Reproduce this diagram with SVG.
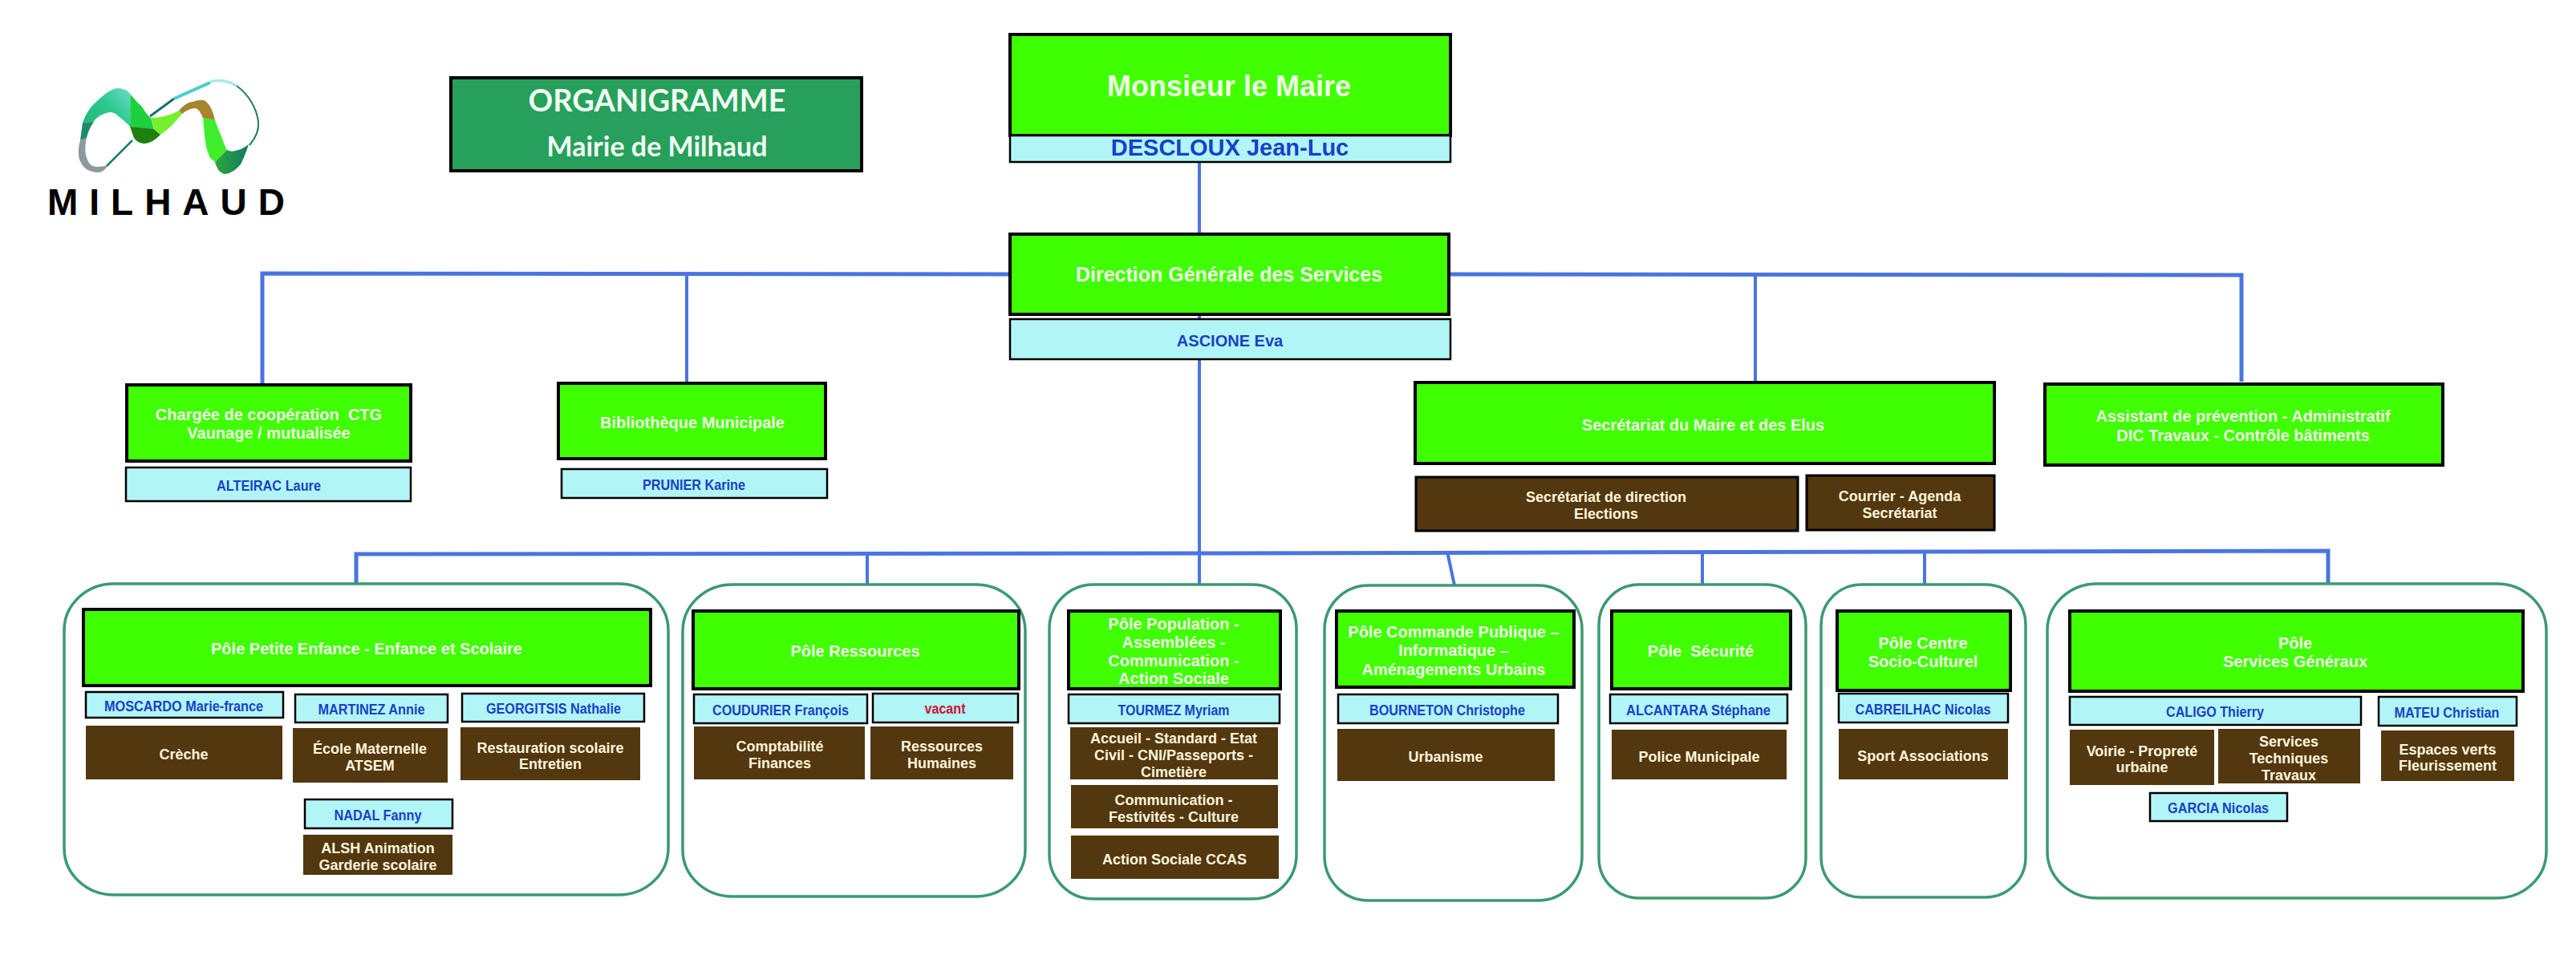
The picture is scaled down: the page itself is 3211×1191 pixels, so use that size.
<svg xmlns="http://www.w3.org/2000/svg" width="3211" height="1191" viewBox="0 0 3211 1191">
<defs>
<linearGradient id="arch" x1="0" y1="1" x2="1" y2="0.3"><stop offset="0" stop-color="#1fb877"/><stop offset="0.6" stop-color="#2cc78c"/><stop offset="1" stop-color="#58d8b8"/></linearGradient>
<linearGradient id="foot" x1="0" y1="0" x2="1" y2="0"><stop offset="0" stop-color="#2ba83c"/><stop offset="1" stop-color="#147a62"/></linearGradient>
</defs>
<style>
text{font-family:"Liberation Sans",Arial,sans-serif;font-weight:700;text-anchor:middle;dominant-baseline:central;white-space:pre}
.g{fill:#40ff00;stroke:#000;stroke-width:4}
.n{fill:#b2f5f7;stroke:#000;stroke-width:2.5}
.b{fill:#52370f}
.bk{fill:#52370f;stroke:#000;stroke-width:3}
.c{fill:#fff;stroke:#3a9a70;stroke-width:3.5}
.tg{fill:#f2ffe8;font-size:20px;transform:translateY(1.5px)}
.tn{fill:#1a3fc8;font-size:18px;transform:translateY(1.5px)}
.tb{fill:#fff6dc;font-size:18px;transform:translateY(1.5px)}
.l{fill:none;stroke:#4a74e0;stroke-width:4}
.t{font-family:Lato,"Open Sans",sans-serif;font-weight:700;fill:#f2fff4}
</style>
<rect width="3211" height="1191" fill="#fff"/>
<g id="logo">
<path d="M103,153C108,140 113,133 120,127C130,117 140,110 147,110C156,110 160,114 163,118L163,135L162,158C157,152 154,150 150,147C145,142 142,140 137,140C130,141 124,144 120,148C116,151 117,152 117,152Z" fill="url(#arch)"/>
<path d="M103,153L117,152C112,159 110,164 108,172L100,175Z" fill="#1d8a6c"/>
<path d="M100,175L108,172C106,180 106,188 107,193C109,203 114,208 120,208C126,208 131,207 135,206C131,212 127,215 122,215C112,215 103,210 99,199C97,191 98,182 100,175Z" fill="#8b9a9b"/>
<path d="M133,207L165,175" fill="none" stroke="#1d7f6c" stroke-width="2.5"/>
<path d="M163,118C168,124 172,129 177,133C181,140 184,144 188,147L192,162L162,158Z" fill="#1fd03e"/>
<path d="M162,158L192,161L200,168C193,175 186,179 180,179C174,179 170,176 167,172Z" fill="#1f7f10"/>
<path d="M188,147C200,147 212,144 223,138L227,142C220,150 214,157 208,162L200,168L192,161Z" fill="#74f02c"/>
<path d="M223,138C229,131 235,127 240,127C249,124 255,124 257,127C263,132 266,141 268,150L253,147C250,140 247,135 243,135C238,135 232,138 227,142Z" fill="#a5852d"/>
<path d="M253,147L268,150C271,158 274,166 277,173C279,179 281,184 283,187L268,202L262,197C259,190 258,186 257,183C255,170 254,158 253,147Z" fill="#3fee2a"/>
<path d="M283,187C287,189 290,189 293,188C299,187 305,184 310,180C306,192 303,199 300,205C293,213 286,217 280,217C274,216 270,210 268,202Z" fill="url(#foot)"/>
<path d="M187,145L217,123" fill="none" stroke="#1d6f70" stroke-width="3"/>
<path d="M217,123L262,103" fill="none" stroke="#45cfc8" stroke-width="4"/>
<path d="M262,102C274,99 285,101 295,107" fill="none" stroke="#a6ece4" stroke-width="3.5"/>
<path d="M295,107C310,118 320,135 322,152C323,163 318,173 311,181" fill="none" stroke="#1f7a6a" stroke-width="2"/>
<text x="214" y="252" font-size="46" letter-spacing="14" fill="#000">MILHAUD</text>
</g>
<g id="titre">
<rect x="562" y="97" width="512" height="116" fill="#27a05c" stroke="#000" stroke-width="4"/>
<text x="819" y="124" font-size="38" class="t">ORGANIGRAMME</text>
<text x="819" y="181" font-size="34" class="t">Mairie de Milhaud</text>
</g>
<g id="connectors" class="l">
<path d="M1495,202V291M1495,392V398M1495,448V728"/>
<path d="M1258,342L327,341V478" stroke-width="5"/>
<path d="M856,341V477"/>
<path d="M1806,342L2794,343V476" stroke-width="5"/>
<path d="M2188,342V476"/>
<path d="M444,727V691L1495,690L2902,687V728" stroke-width="5"/>
<path d="M1081,690V728M1804,688L1813,730M2122,688V729M2399,688V728"/>
</g>
<g id="maire">
<rect class="g" x="1259" y="43" width="549" height="126"/>
<text x="1532" y="107" font-size="36" fill="#f2ffe8">Monsieur le Maire</text>
<rect class="n" x="1259" y="169" width="549" height="33"/>
<text x="1533" y="184" font-size="29" fill="#1a3fc8">DESCLOUX Jean-Luc</text>
</g>
<g id="dgs">
<rect class="g" x="1259" y="292" width="547" height="100"/>
<text x="1532" y="342" font-size="25" fill="#f2ffe8">Direction Générale des Services</text>
<rect class="n" x="1259" y="398" width="549" height="50"/>
<text class="tn" x="1533" y="423" style="font-size:20px">ASCIONE Eva</text>
</g>
<g id="cooperation">
<rect class="g" x="158" y="480" width="354" height="95"/>
<text class="tg" x="335" y="515">Chargée de coopération  CTG</text>
<text class="tg" x="335" y="538">Vaunage / mutualisée</text>
<rect class="n" x="157" y="583" width="355" height="42"/>
<text class="tn" x="335" y="604" textLength="130" lengthAdjust="spacingAndGlyphs">ALTEIRAC Laure</text>
</g>
<g id="bibliotheque">
<rect class="g" x="696" y="478" width="333" height="94"/>
<text class="tg" x="863" y="525">Bibliothèque Municipale</text>
<rect class="n" x="700" y="585" width="331" height="36"/>
<text class="tn" x="865" y="603" textLength="128" lengthAdjust="spacingAndGlyphs">PRUNIER Karine</text>
</g>
<g id="secretariat">
<rect class="g" x="1764" y="477" width="722" height="101"/>
<text class="tg" x="2123" y="528">Secrétariat du Maire et des Elus</text>
<rect class="bk" x="1765" y="595" width="476" height="67"/>
<text class="tb" x="2002" y="618">Secrétariat de direction</text>
<text class="tb" x="2002" y="639">Elections</text>
<rect class="bk" x="2252" y="593" width="234" height="68"/>
<text class="tb" x="2368" y="617">Courrier - Agenda</text>
<text class="tb" x="2368" y="638">Secrétariat</text>
</g>
<g id="assistant">
<rect class="g" x="2549" y="479" width="496" height="101"/>
<text class="tg" x="2796" y="517">Assistant de prévention - Administratif</text>
<text class="tg" x="2796" y="541">DIC Travaux - Contrôle bâtiments</text>
</g>
<g id="pole-enfance">
<rect class="c" x="80" y="728" width="753" height="388" rx="62" ry="58"/>
<rect class="g" x="104" y="760" width="707" height="95"/>
<text class="tg" x="457" y="807">Pôle Petite Enfance - Enfance et Scolaire</text>
<rect class="n" x="107" y="863" width="246" height="32"/>
<text class="tn" x="229" y="879" textLength="198" lengthAdjust="spacingAndGlyphs">MOSCARDO Marie-france</text>
<rect class="n" x="368" y="866" width="190" height="35"/>
<text class="tn" x="463" y="883" textLength="133" lengthAdjust="spacingAndGlyphs">MARTINEZ Annie</text>
<rect class="n" x="576" y="865" width="227" height="35"/>
<text class="tn" x="690" y="882" textLength="168" lengthAdjust="spacingAndGlyphs">GEORGITSIS Nathalie</text>
<rect class="b" x="107" y="905" width="245" height="67"/>
<text class="tb" x="229" y="939">Crèche</text>
<rect class="b" x="365" y="908" width="193" height="68"/>
<text class="tb" x="461" y="932">École Maternelle</text>
<text class="tb" x="461" y="953">ATSEM</text>
<rect class="b" x="574" y="907" width="224" height="66"/>
<text class="tb" x="686" y="931">Restauration scolaire</text>
<text class="tb" x="686" y="951">Entretien</text>
<rect class="n" x="380" y="997" width="184" height="36"/>
<text class="tn" x="471" y="1015" textLength="109" lengthAdjust="spacingAndGlyphs">NADAL Fanny</text>
<rect class="b" x="378" y="1041" width="186" height="50"/>
<text class="tb" x="471" y="1056">ALSH Animation</text>
<text class="tb" x="471" y="1077">Garderie scolaire</text>
</g>
<g id="pole-ressources">
<rect class="c" x="851" y="729" width="427" height="389" rx="62" ry="58"/>
<rect class="g" x="864" y="762" width="406" height="97"/>
<text class="tg" x="1066" y="810">Pôle Ressources</text>
<rect class="n" x="865" y="866" width="216" height="36"/>
<text class="tn" x="973" y="884" textLength="170" lengthAdjust="spacingAndGlyphs">COUDURIER François</text>
<rect class="n" x="1088" y="865" width="181" height="36"/>
<text class="tn" x="1178" y="882" style="fill:#d01030" textLength="51" lengthAdjust="spacingAndGlyphs">vacant</text>
<rect class="b" x="865" y="906" width="213" height="66"/>
<text class="tb" x="972" y="929">Comptabilité</text>
<text class="tb" x="972" y="950">Finances</text>
<rect class="b" x="1085" y="906" width="178" height="66"/>
<text class="tb" x="1174" y="929">Ressources</text>
<text class="tb" x="1174" y="950">Humaines</text>
</g>
<g id="pole-population">
<rect class="c" x="1308" y="729" width="308" height="392" rx="55" ry="55"/>
<rect class="g" x="1332" y="762" width="264" height="97"/>
<text class="tg" x="1463" y="776">Pôle Population -</text>
<text class="tg" x="1463" y="799">Assemblées -</text>
<text class="tg" x="1463" y="822">Communication -</text>
<text class="tg" x="1463" y="844">Action Sociale</text>
<rect class="n" x="1332" y="866" width="263" height="36"/>
<text class="tn" x="1463" y="884" textLength="139" lengthAdjust="spacingAndGlyphs">TOURMEZ Myriam</text>
<rect class="b" x="1334" y="907" width="259" height="65"/>
<text class="tb" x="1463" y="919">Accueil - Standard - Etat</text>
<text class="tb" x="1463" y="940">Civil - CNI/Passeports -</text>
<text class="tb" x="1463" y="961">Cimetière</text>
<rect class="b" x="1335" y="979" width="258" height="54"/>
<text class="tb" x="1463" y="996">Communication -</text>
<text class="tb" x="1463" y="1017">Festivités - Culture</text>
<rect class="b" x="1335" y="1042" width="259" height="54"/>
<text class="tb" x="1464" y="1070">Action Sociale CCAS</text>
</g>
<g id="pole-commande">
<rect class="c" x="1651" y="730" width="321" height="393" rx="55" ry="55"/>
<rect class="g" x="1666" y="762" width="296" height="95"/>
<text class="tg" x="1812" y="786">Pôle Commande Publique –</text>
<text class="tg" x="1812" y="809">Informatique –</text>
<text class="tg" x="1812" y="833">Aménagements Urbains</text>
<rect class="n" x="1668" y="866" width="274" height="36"/>
<text class="tn" x="1804" y="884" textLength="194" lengthAdjust="spacingAndGlyphs">BOURNETON Christophe</text>
<rect class="b" x="1667" y="909" width="271" height="65"/>
<text class="tb" x="1802" y="942">Urbanisme</text>
</g>
<g id="pole-securite">
<rect class="c" x="1993" y="729" width="258" height="391" rx="50" ry="50"/>
<rect class="g" x="2009" y="762" width="223" height="97"/>
<text class="tg" x="2120" y="810">Pôle  Sécurité</text>
<rect class="n" x="2007" y="866" width="221" height="36"/>
<text class="tn" x="2117" y="884" textLength="180" lengthAdjust="spacingAndGlyphs">ALCANTARA Stéphane</text>
<rect class="b" x="2009" y="910" width="218" height="62"/>
<text class="tb" x="2118" y="942">Police Municipale</text>
</g>
<g id="pole-socio">
<rect class="c" x="2270" y="729" width="255" height="390" rx="50" ry="50"/>
<rect class="g" x="2290" y="762" width="216" height="99"/>
<text class="tg" x="2397" y="800">Pôle Centre</text>
<text class="tg" x="2397" y="823">Socio-Culturel</text>
<rect class="n" x="2292" y="865" width="211" height="36"/>
<text class="tn" x="2397" y="883" textLength="169" lengthAdjust="spacingAndGlyphs">CABREILHAC Nicolas</text>
<rect class="b" x="2292" y="909" width="211" height="63"/>
<text class="tb" x="2397" y="941">Sport Associations</text>
</g>
<g id="pole-services">
<rect class="c" x="2552" y="728" width="622" height="392" rx="62" ry="58"/>
<rect class="g" x="2580" y="762" width="565" height="100"/>
<text class="tg" x="2861" y="800">Pôle</text>
<text class="tg" x="2861" y="823">Services Généraux</text>
<rect class="n" x="2580" y="869" width="363" height="35"/>
<text class="tn" x="2761" y="886" textLength="122" lengthAdjust="spacingAndGlyphs">CALIGO Thierry</text>
<rect class="n" x="2965" y="869" width="172" height="36"/>
<text class="tn" x="3050" y="887" textLength="131" lengthAdjust="spacingAndGlyphs">MATEU Christian</text>
<rect class="b" x="2580" y="910" width="180" height="69"/>
<text class="tb" x="2670" y="935">Voirie - Propreté</text>
<text class="tb" x="2670" y="955">urbaine</text>
<rect class="b" x="2765" y="909" width="177" height="68"/>
<text class="tb" x="2853" y="923">Services</text>
<text class="tb" x="2853" y="944">Techniques</text>
<text class="tb" x="2853" y="965">Travaux</text>
<rect class="b" x="2968" y="911" width="166" height="63"/>
<text class="tb" x="3051" y="933">Espaces verts</text>
<text class="tb" x="3051" y="953">Fleurissement</text>
<rect class="n" x="2680" y="989" width="171" height="35"/>
<text class="tn" x="2765" y="1006" textLength="126" lengthAdjust="spacingAndGlyphs">GARCIA Nicolas</text>
</g>
</svg>
